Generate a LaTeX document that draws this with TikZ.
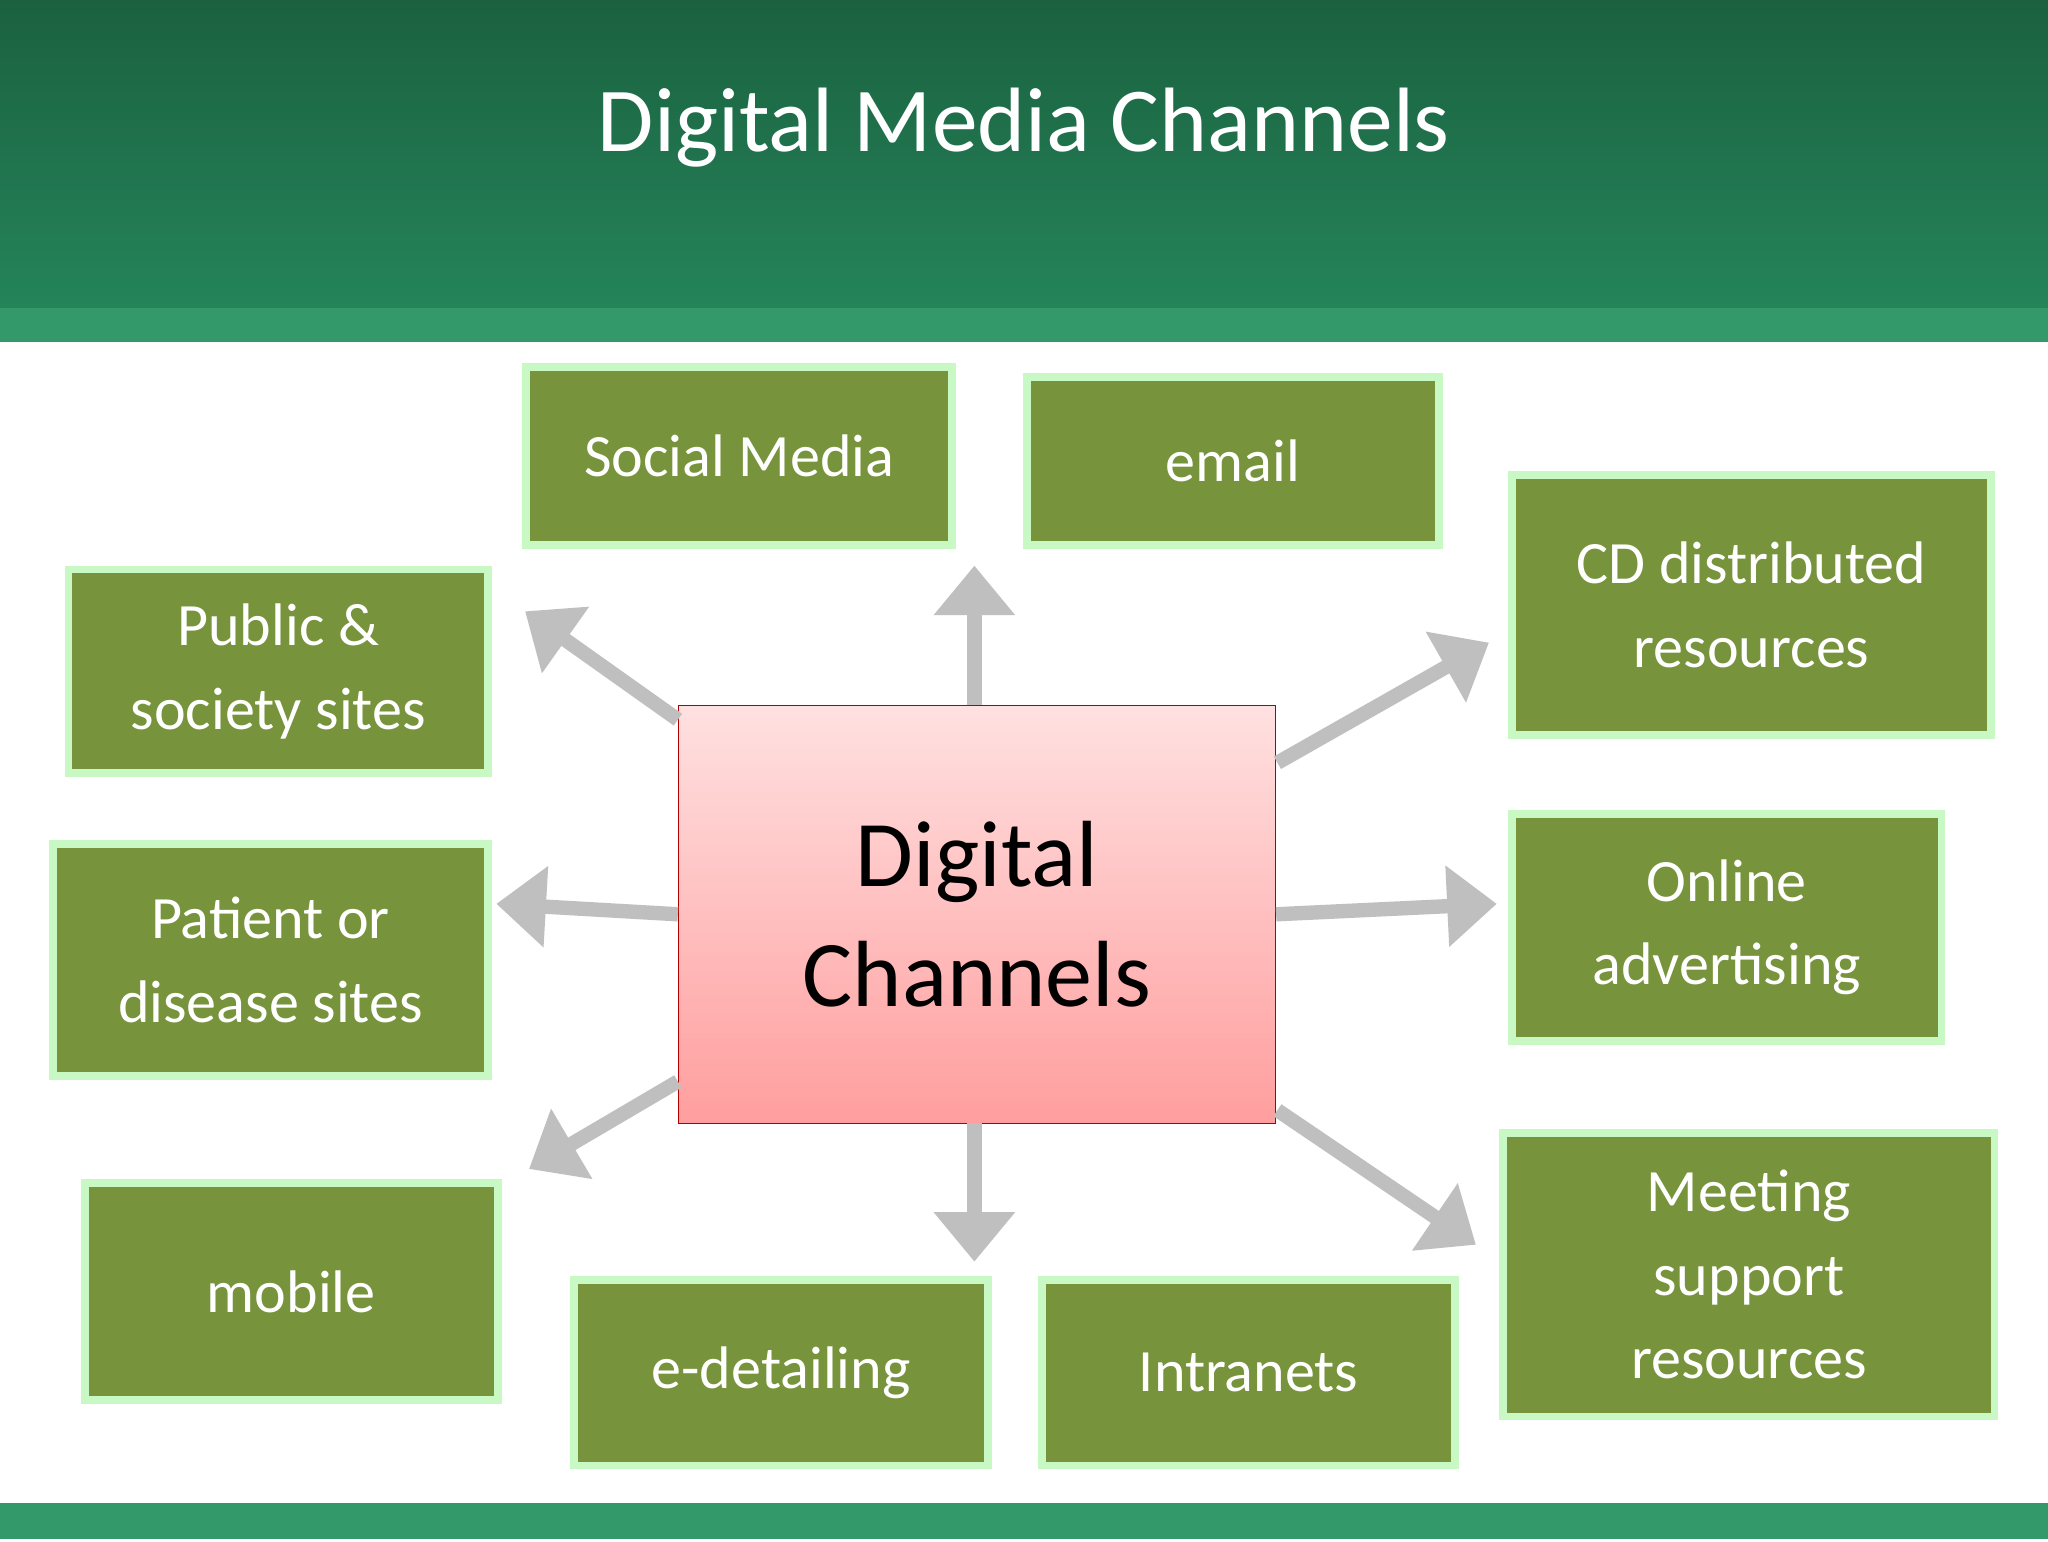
\documentclass[tikz,border=0pt]{standalone}
\usepackage{fontspec}
\setmainfont{Carlito}
\usetikzlibrary{arrows.meta}
\definecolor{hdark}{HTML}{1B6140}
\definecolor{hlight}{HTML}{24845A}
\definecolor{band}{HTML}{33996A}
\definecolor{boxfill}{HTML}{77933C}
\definecolor{boxedge}{HTML}{C8F8C4}
\definecolor{arr}{HTML}{BFBFBF}
\tikzset{
 gbox/.style={draw=boxedge,line width=6pt,fill=boxfill,text=white,align=center,font=\fontsize{46}{64}\selectfont},
 bigarrow/.style={draw=arr,line width=11pt,-{Triangle[width=60pt,length=38pt]}}
}
\begin{document}
\begin{tikzpicture}[x=1pt,y=-1pt]
\useasboundingbox (0,0) rectangle (1568,1180);
\fill[white] (0,0) rectangle (1568,1180);
\shade[top color=hdark,bottom color=hlight] (0,0) rectangle (1568,236);
\fill[band] (0,236) rectangle (1568,262);
\fill[band] (0,1151) rectangle (1568,1178);
\node[text=white,font=\fontsize{70}{84}\selectfont] (title) at (784,98) {Digital Media Channels};
\node[gbox,minimum width=326pt,minimum height=136pt] (sm) at (566,349) {Social Media};
\node[gbox,minimum width=316pt,minimum height=129pt] (em) at (944,353) {email};
\node[gbox,minimum width=367pt,minimum height=199pt] (cd) at (1341,463) {CD distributed\\resources};
\node[gbox,minimum width=321pt,minimum height=156pt] (ps) at (213,514) {Public \&\\society sites};
\node[gbox,minimum width=333pt,minimum height=178pt] (pd) at (207,735) {Patient or\\disease sites};
\node[gbox,minimum width=329pt,minimum height=174pt] (oa) at (1322,710) {Online\\advertising};
\node[gbox,minimum width=316pt,minimum height=166pt] (mo) at (223,989) {mobile};
\node[gbox,minimum width=317pt,minimum height=142pt] (ed) at (598,1051) {e-detailing};
\node[gbox,minimum width=316pt,minimum height=142pt] (in) at (956,1051) {Intranets};
\node[gbox,minimum width=376pt,minimum height=217pt] (ms) at (1339,976) {Meeting\\support\\resources};
\node[draw=red!70!black,line width=1pt,top color=red!12,bottom color=red!38!white!100,minimum width=457pt,minimum height=320pt,align=center,font=\fontsize{72}{92}\selectfont] (c) at (748,700) {Digital\\Channels};
\coordinate (a1) at (746,433);
\coordinate (a2) at (402,468);
\coordinate (a3) at (1140,492);
\coordinate (a4) at (380,692);
\coordinate (a5) at (1146,692);
\coordinate (a6) at (405,895);
\coordinate (a7) at (746,966);
\coordinate (a8) at (1130,953);
\draw[bigarrow] (746,540) -- (a1);
\draw[bigarrow] (519,551) -- (a2);
\draw[bigarrow] (978,584) -- (a3);
\draw[bigarrow] (c.west) -- (a4);
\draw[bigarrow] (c.east) -- (a5);
\draw[bigarrow] (519,828) -- (a6);
\draw[bigarrow] (746,860) -- (a7);
\draw[bigarrow] (978,850) -- (a8);
\end{tikzpicture}
\end{document}
